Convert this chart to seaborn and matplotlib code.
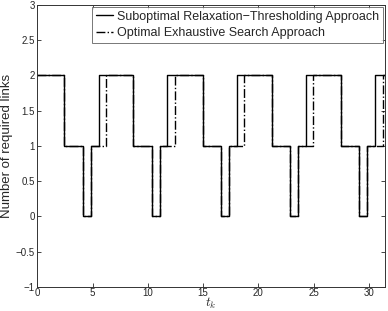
import matplotlib
matplotlib.use("Agg")
import matplotlib.pyplot as plt
import seaborn as sns
import pandas as pd

# Step change times (x) and levels for each approach
sub_t = [0, 2.39, 4.08, 4.81, 5.53, 8.65, 10.34, 11.07, 11.73, 14.95, 16.64, 17.33, 18.02,
         21.21, 22.90, 23.62, 24.32, 27.45, 29.13, 29.83, 30.55, 31.42]
sub_y = [2, 1, 0, 1, 2, 1, 0, 1, 2, 1, 0, 1, 2, 1, 0, 1, 2, 1, 0, 1, 2, 2]

opt_t = [0, 2.39, 4.08, 4.81, 6.19, 8.65, 10.34, 11.07, 12.42, 14.95, 16.64, 17.33, 18.74,
         21.21, 22.90, 23.62, 24.98, 27.45, 29.13, 29.83, 31.25, 31.42]
opt_y = [2, 1, 0, 1, 2, 1, 0, 1, 2, 1, 0, 1, 2, 1, 0, 1, 2, 1, 0, 1, 2, 2]

labels = ["Suboptimal Relaxation\u2212Thresholding Approach", "Optimal Exhaustive Search Approach"]
xticks = [0, 5, 10, 15, 20, 25, 30]
yticks = [-1, -0.5, 0, 0.5, 1, 1.5, 2, 2.5, 3]

sns.set_style("ticks")
plt.rcParams["font.family"] = ["Liberation Sans", "DejaVu Sans"]
plt.rcParams["xtick.direction"] = "in"
plt.rcParams["ytick.direction"] = "in"
plt.rcParams["mathtext.fontset"] = "cm"

fig = plt.figure(figsize=(3.88, 3.11), dpi=100)
ax = fig.add_axes([0.0966, 0.0772, 0.8944, 0.9068])

df1 = pd.DataFrame({"t": sub_t, "y": sub_y})
df2 = pd.DataFrame({"t": opt_t, "y": opt_y})
sns.lineplot(data=df1, x="t", y="y", ax=ax, color="black", linewidth=1.0,
             drawstyle="steps-post", estimator=None, label=labels[0])
sns.lineplot(data=df2, x="t", y="y", ax=ax, color="black", linewidth=1.0, linestyle="-.",
             drawstyle="steps-post", estimator=None, label=labels[1])

ax.set_xlim(0, 31.42)
ax.set_ylim(-1, 3)
ax.set_xticks(xticks)
ax.set_xticklabels([str(v) for v in xticks])
ax.set_yticks(yticks)
ax.set_yticklabels([("\u2212" + f"{abs(v):g}") if v < 0 else f"{v:g}" for v in yticks])
ax.tick_params(axis="both", labelsize=7, length=3, width=0.6, top=True, right=True, pad=2)
ax.tick_params(axis="x", pad=1)
for s in ax.spines.values():
    s.set_linewidth(0.7)
    s.set_color("#333333")

ax.set_xlabel("$t_k$", fontsize=9.5, labelpad=-1.6)
ax.set_ylabel("Number of required links", fontsize=9.5, labelpad=2)

leg = ax.legend(loc="upper right", fontsize=9, frameon=True, fancybox=False,
                borderaxespad=0.15, handlelength=1.4, handletextpad=0.3,
                borderpad=0.3, labelspacing=0.35)
leg.get_frame().set_edgecolor("#555555")
leg.get_frame().set_linewidth(0.7)

fig.savefig("out.png", dpi=100)
